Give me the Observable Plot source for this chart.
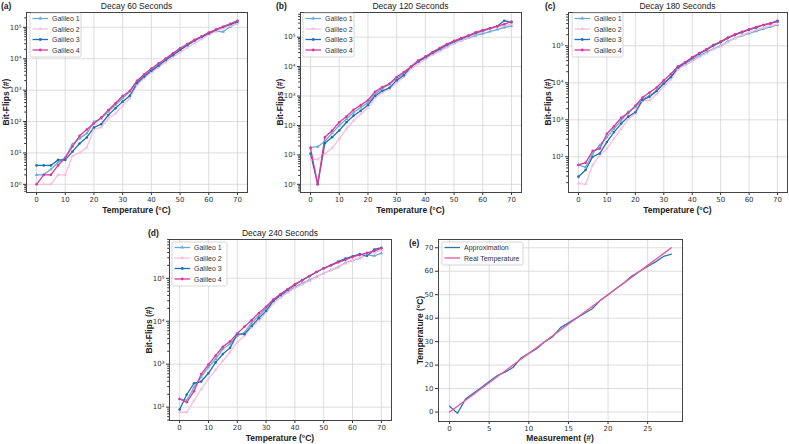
<!DOCTYPE html>
<html><head><meta charset="utf-8">
<script src="https://cdn.jsdelivr.net/npm/d3@7"></script>
<script src="https://cdn.jsdelivr.net/npm/@observablehq/plot@0.6"></script>
<style>
body{margin:0;background:#fff;}
#wrap{position:relative;width:789px;height:444px;overflow:hidden;background:#fff;}
#wrap > svg, #wrap > div{position:absolute;}
</style></head>
<body><div id="wrap"></div>
<script>
const temps = [0,2.5,5,7.5,10,12.5,15,17.5,20,22.5,25,27.5,30,32.5,35,37.5,40,42.5,45,47.5,50,52.5,55,57.5,60,62.5,65,67.5,70];
const seriesNames = ["Galileo 1","Galileo 2","Galileo 3","Galileo 4"];
const seriesColors = ["#6aaad8","#f9bddd","#1f6fb2","#e0359a"];
const seriesSymbols = ["triangle","triangle","circle","circle"];
const tempTicks = [0,10,20,30,40,50,60,70];

const a_g1 = [2,2,3,5,7,19,29,42,98,125,205,340,550,900,1850,2900,4400,6300,9100,13200,19000,26000,37000,48000,64000,76000,72000,105000,135000];
const a_g2 = [1,1,1,2,2,8,10,15,57,65,125,180,320,550,1450,2400,3700,5300,7700,11500,16000,22500,31000,42000,57000,73000,93000,113000,135000];
const a_g3 = [4,4,4,6,6,11,20,31,65,82,160,265,430,660,1650,2700,4100,6000,9100,13000,19000,27500,38000,50000,64000,83000,103000,125000,150000];
const a_g4 = [1,2,2,4,7,16,35,56,87,133,230,380,650,940,2000,3200,4900,7100,10200,14800,21500,29500,40000,52000,68000,85000,105000,130000,163000];

const b_g1 = [18,19,29,55,100,165,277,410,600,1150,1830,2500,4000,5700,9600,14400,19600,27000,35700,49000,63000,78000,93000,114000,133000,155000,182000,213000,240000];
const b_g2 = [7,7,11,17,35,76,145,245,390,890,1300,1700,2800,4400,8400,12300,17300,25500,33000,45000,60000,78000,98000,126000,155000,186000,218000,247000,275000];
const b_g3 = [11,1,25,40,67,128,215,315,500,1000,1500,1900,3400,5100,9800,15000,21000,29000,40000,55000,71000,88000,110000,136000,167000,200000,236000,363000,318000];
const b_g4 = [17,1,40,67,128,200,340,490,720,1400,2000,2600,4400,6500,9800,16000,22000,31000,43000,58000,75000,93000,114000,145000,173000,200000,236000,275000,337000];

const c_g1 = [60,52,123,205,340,570,950,1650,2180,3600,4500,6300,10000,14300,25000,32500,42500,54000,68000,83000,100000,131000,162000,190000,218000,250000,286000,325000,367000];
const c_g2 = [19,18,60,110,167,310,570,1050,1450,3250,3400,4900,8100,12300,23000,30000,38000,50000,63000,81000,96000,126000,162000,197000,232000,270000,311000,350000,390000];
const c_g3 = [29,44,100,123,250,465,780,1220,1600,3400,4200,6000,9500,14300,26000,35000,47000,61000,78000,102000,126000,162000,197000,232000,274000,311000,367000,405000,480000];
const c_g4 = [60,69,145,167,420,670,1130,1520,2400,4000,5450,7450,11800,17400,28000,36000,49000,64000,81000,107000,131000,167000,205000,242000,280000,325000,367000,405000,450000];

const d_g1 = [155,143,290,500,850,1320,2250,2950,4600,5500,9300,13400,20000,29500,39000,49000,63000,76000,91000,110000,131000,155000,182000,230000,263000,293000,350000,333000,383000];
const d_g2 = [76,76,143,265,455,740,1200,1900,3250,4600,7200,10300,16000,26000,35500,46500,59000,72000,87000,108000,131000,155000,186000,222000,263000,303000,350000,396000,450000];
const d_g3 = [88,197,360,395,615,1100,1730,2400,5000,5000,7800,11800,17400,29500,41000,54000,71000,90000,112000,140000,171000,204000,245000,287000,325000,365000,333000,470000,515000];
const d_g4 = [155,130,235,590,980,1580,2550,3400,5200,7500,10600,15500,21700,32000,43000,56000,73000,90000,113000,140000,171000,200000,235000,270000,314000,350000,390000,433000,500000];

const measurements = [0,1,2,3,4,5,6,7,8,9,10,11,12,13,14,15,16,17,18,19,20,21,22,23,24,25,26,27,28];
const approxTemp = [2.5,-0.5,5.5,8,10.5,13,15.5,17,19,23,25,27,30,32,36,38,40,42,44,47.5,50,52.5,55,58,60,62,64,66.3,67.3];
const realTemp = temps;
const eNames = ["Approximation","Real Temperature"];
const eColors = ["#2a78b4","#e8559f"];
const measTicks = [0,5,10,15,20,25];
const eYTicks = [0,10,20,30,40,50,60,70];

const wrap = document.getElementById("wrap");
const SUP = {"0":"⁰","1":"¹","2":"²","3":"³","4":"⁴","5":"⁵","6":"⁶","7":"⁷","8":"⁸","9":"⁹","-":"⁻"};
const powFmt = v => "10" + String(Math.round(Math.log10(v))).split("").map(c => SUP[c]).join("");
const baseStyle = {fontSize: "7px", fontFamily: "DejaVu Sans", color: "#333", background: "transparent", overflow: "visible"};

function place(el, left, top){ el.style.left = left + "px"; el.style.top = top + "px"; wrap.appendChild(el); }

function bitPanel(vals, box){
  const rows = [];
  vals.forEach((arr, i) => arr.forEach((v, j) => rows.push({t: temps[j], v, s: seriesNames[i]})));
  const all = rows.map(r => Math.log10(r.v));
  const lo = d3.min(all), hi = d3.max(all), pad = 0.05 * (hi - lo);
  const dom = [10 ** (lo - pad), 10 ** (hi + pad)];
  const majors = [], minors = [];
  for (let k = Math.floor(lo - pad); k <= Math.ceil(hi + pad); k++) {
    const p = 10 ** k;
    if (p >= dom[0] && p <= dom[1]) majors.push(p);
    for (let m = 2; m <= 9; m++) { const q = m * p; if (q >= dom[0] && q <= dom[1]) minors.push(q); }
  }
  const svg = Plot.plot({
    width: box.w, height: box.h,
    marginLeft: box.ml, marginRight: box.mr, marginTop: box.mt, marginBottom: box.mb,
    style: baseStyle,
    x: {domain: [-3.5, 73.5]},
    y: {type: "log", domain: dom},
    color: {domain: seriesNames, range: seriesColors},
    symbol: {domain: seriesNames, range: seriesSymbols},
    marks: [
      Plot.gridX({ticks: tempTicks, stroke: "#d4d4d4", strokeOpacity: 1, strokeWidth: 0.8}),
      Plot.gridY({ticks: majors, stroke: "#d4d4d4", strokeOpacity: 1, strokeWidth: 0.8}),
      Plot.axisX({ticks: tempTicks, tickSize: 3, tickPadding: 2, label: null, stroke: "#333"}),
      Plot.axisY({ticks: majors, tickSize: 3, tickPadding: 2, label: null, tickFormat: powFmt, stroke: "#333"}),
      Plot.axisY({ticks: minors, tickSize: 1.8, label: null, tickFormat: () => "", stroke: "#333"}),
      Plot.line(rows, {x: "t", y: "v", z: "s", stroke: "s", strokeWidth: 1.3}),
      Plot.dot(rows, {x: "t", y: "v", fill: "s", symbol: "s", r: 1.3, stroke: "none"}),
      Plot.frame({stroke: "#444", strokeWidth: 1})
    ]
  });
  place(svg, box.left, box.top);
}

bitPanel([a_g1, a_g2, a_g3, a_g4], {left: 0, top: 0, w: 255, h: 220, ml: 26, mr: 8, mt: 12, mb: 28});
bitPanel([b_g1, b_g2, b_g3, b_g4], {left: 265, top: 0, w: 262, h: 220, ml: 35, mr: 6, mt: 12, mb: 28});
bitPanel([c_g1, c_g2, c_g3, c_g4], {left: 535, top: 0, w: 254, h: 220, ml: 33, mr: 2, mt: 12, mb: 28});
bitPanel([d_g1, d_g2, d_g3, d_g4], {left: 135, top: 225, w: 262, h: 219, ml: 34, mr: 6, mt: 14, mb: 24});

// panel e
(function(){
  const rows = [];
  measurements.forEach((m, j) => rows.push({m, v: approxTemp[j], s: eNames[0]}));
  measurements.forEach((m, j) => rows.push({m, v: realTemp[j], s: eNames[1]}));
  const ext = d3.extent(rows, r => r.v), pad = 0.05 * (ext[1] - ext[0]);
  const xext = d3.extent(measurements), xpad = 0.05 * (xext[1] - xext[0]);
  const svg = Plot.plot({
    width: 290, height: 219, marginLeft: 38, marginRight: 8, marginTop: 14, marginBottom: 23,
    style: baseStyle,
    x: {domain: [xext[0] - xpad, xext[1] + xpad]},
    y: {domain: [ext[0] - pad, ext[1] + pad]},
    color: {domain: eNames, range: eColors},
    marks: [
      Plot.gridX({ticks: measTicks, stroke: "#d4d4d4", strokeOpacity: 1, strokeWidth: 0.8}),
      Plot.gridY({ticks: eYTicks, stroke: "#d4d4d4", strokeOpacity: 1, strokeWidth: 0.8}),
      Plot.axisX({ticks: measTicks, tickSize: 3, tickPadding: 2, label: null, stroke: "#333"}),
      Plot.axisY({ticks: eYTicks, tickSize: 3, tickPadding: 2, label: null, stroke: "#333"}),
      Plot.line(rows, {x: "m", y: "v", z: "s", stroke: "s", strokeWidth: 1.3}),
      Plot.frame({stroke: "#444", strokeWidth: 1})
    ]
  });
  place(svg, 400, 225);
})();

// overlay texts & legends
const ov = d3.select(wrap).append("svg").attr("width", 789).attr("height", 444)
  .style("left", "0px").style("top", "0px").style("pointer-events", "none");
const txt = (x, y, s, o = {}) => ov.append("text").attr("x", x).attr("y", y).text(s)
  .attr("font-family", "Liberation Sans, Arial, sans-serif").attr("font-size", o.size || 8.5)
  .attr("font-weight", o.bold ? "bold" : "normal").attr("fill", o.fill || "#222")
  .attr("text-anchor", o.anchor || "middle")
  .attr("transform", o.rot ? `rotate(-90 ${x} ${y})` : null);

const titles = [["Decay 60 Seconds", 136.5, 8.5], ["Decay 120 Seconds", 410.5, 8.5], ["Decay 180 Seconds", 677.5, 8.5], ["Decay 240 Seconds", 280, 236]];
titles.forEach(([s, x, y]) => txt(x, y, s, {size: 8.5}));
[["(a)", 1, 9], ["(b)", 276, 9], ["(c)", 545, 9], ["(d)", 148, 236], ["(e)", 409, 246]]
  .forEach(([s, x, y]) => txt(x, y, s, {bold: true, anchor: "start", size: 8.5}));
[[8.5, 102], [283, 102], [551, 102], [152, 330]].forEach(([x, y]) => txt(x, y, "Bit-Flips (#)", {bold: true, rot: true}));
txt(423, 330, "Temperature (°C)", {bold: true, rot: true});
[[136.5, 213], [410.5, 213], [677.5, 213], [280, 441]].forEach(([x, y]) => txt(x, y, "Temperature (°C)", {bold: true}));
txt(560, 441, "Measurement (#)", {bold: true});

function legend(x0, y0, w, names, colors, symbols){
  const h = 2 + names.length * 10.5;
  ov.append("rect").attr("x", x0).attr("y", y0).attr("width", w).attr("height", h).attr("rx", 1.5)
    .attr("fill", "#fff").attr("fill-opacity", 0.85).attr("stroke", "#ccc").attr("stroke-width", 0.8);
  names.forEach((n, i) => {
    const y = y0 + 5.5 + i * 10.5;
    ov.append("line").attr("x1", x0 + 2.5).attr("x2", x0 + 18).attr("y1", y).attr("y2", y)
      .attr("stroke", colors[i]).attr("stroke-width", 1.3);
    if (symbols) {
      const sym = d3.symbol().type(symbols[i] === "triangle" ? d3.symbolTriangle : d3.symbolCircle).size(6);
      ov.append("path").attr("d", sym()).attr("transform", `translate(${x0 + 10.25},${y})`).attr("fill", colors[i]);
    }
    txt(x0 + 22, y + 2.5, n, {anchor: "start", size: 7, fill: "#333"});
  });
}
legend(30, 13, 51, seriesNames, seriesColors, seriesSymbols);
legend(303, 13, 51, seriesNames, seriesColors, seriesSymbols);
legend(572, 13, 51, seriesNames, seriesColors, seriesSymbols);
legend(172, 242, 55, seriesNames, seriesColors, seriesSymbols);
legend(442, 242, 81, eNames, eColors, null);
</script></body></html>
